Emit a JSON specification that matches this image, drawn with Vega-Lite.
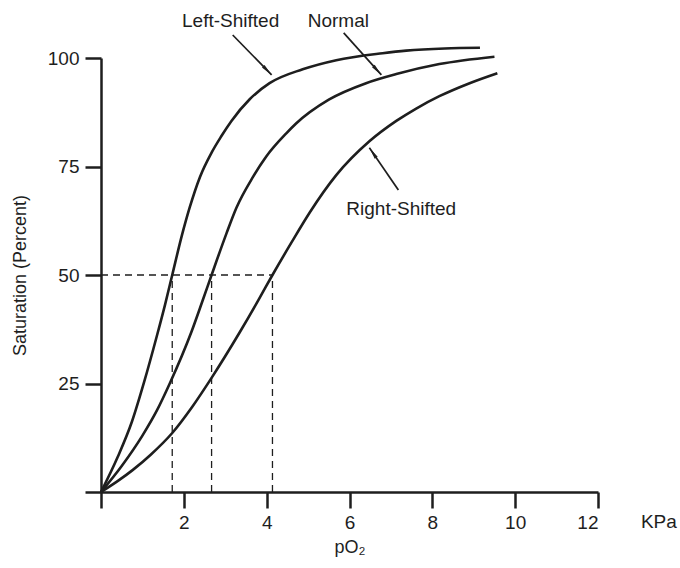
{
  "$schema": "https://vega.github.io/schema/vega-lite/v6.json",
  "autosize": "none",
  "width": 497,
  "height": 434,
  "padding": {"left": 101, "top": 58, "right": 82, "bottom": 76},
  "background": "white",
  "config": {
    "view": {"stroke": null},
    "font": "Liberation Sans",
    "axis": {
      "grid": false,
      "domainColor": "#1e1e1e",
      "domainWidth": 2.5,
      "tickColor": "#1e1e1e",
      "tickWidth": 2.5,
      "tickSize": 16,
      "labelFont": "Liberation Sans",
      "labelFontSize": 19,
      "labelColor": "#1e1e1e",
      "titleFont": "Liberation Sans",
      "titleFontSize": 18,
      "titleFontWeight": "normal",
      "titleColor": "#1e1e1e"
    }
  },
  "datasets": {
    "curves": [
      {"curve": "Left-Shifted", "po2": 0, "sat": 0},
      {"curve": "Left-Shifted", "po2": 0.4, "sat": 8},
      {"curve": "Left-Shifted", "po2": 0.75, "sat": 16.3},
      {"curve": "Left-Shifted", "po2": 1.04, "sat": 25.3},
      {"curve": "Left-Shifted", "po2": 1.35, "sat": 36},
      {"curve": "Left-Shifted", "po2": 1.55, "sat": 43.3},
      {"curve": "Left-Shifted", "po2": 1.72, "sat": 50},
      {"curve": "Left-Shifted", "po2": 1.95, "sat": 59},
      {"curve": "Left-Shifted", "po2": 2.14, "sat": 65.5},
      {"curve": "Left-Shifted", "po2": 2.39, "sat": 72.6},
      {"curve": "Left-Shifted", "po2": 2.67, "sat": 78.2},
      {"curve": "Left-Shifted", "po2": 2.9, "sat": 81.9},
      {"curve": "Left-Shifted", "po2": 3.15, "sat": 85.5},
      {"curve": "Left-Shifted", "po2": 3.59, "sat": 90.5},
      {"curve": "Left-Shifted", "po2": 4.07, "sat": 94.2},
      {"curve": "Left-Shifted", "po2": 4.87, "sat": 97.4},
      {"curve": "Left-Shifted", "po2": 5.68, "sat": 99.5},
      {"curve": "Left-Shifted", "po2": 6.8, "sat": 101.1},
      {"curve": "Left-Shifted", "po2": 7.37, "sat": 101.7},
      {"curve": "Left-Shifted", "po2": 8.3, "sat": 102.2},
      {"curve": "Left-Shifted", "po2": 9.15, "sat": 102.35},
      {"curve": "Normal", "po2": 0, "sat": 0},
      {"curve": "Normal", "po2": 0.5, "sat": 6},
      {"curve": "Normal", "po2": 1.0, "sat": 13},
      {"curve": "Normal", "po2": 1.35, "sat": 18.8},
      {"curve": "Normal", "po2": 1.66, "sat": 25},
      {"curve": "Normal", "po2": 2.18, "sat": 36.8},
      {"curve": "Normal", "po2": 2.45, "sat": 44},
      {"curve": "Normal", "po2": 2.67, "sat": 50},
      {"curve": "Normal", "po2": 3.03, "sat": 59.6},
      {"curve": "Normal", "po2": 3.27, "sat": 65.5},
      {"curve": "Normal", "po2": 3.67, "sat": 72.6},
      {"curve": "Normal", "po2": 3.99, "sat": 77.3},
      {"curve": "Normal", "po2": 4.48, "sat": 82.7},
      {"curve": "Normal", "po2": 4.71, "sat": 84.9},
      {"curve": "Normal", "po2": 5.5, "sat": 90.4},
      {"curve": "Normal", "po2": 6.4, "sat": 94.2},
      {"curve": "Normal", "po2": 7.13, "sat": 96.3},
      {"curve": "Normal", "po2": 8.17, "sat": 98.6},
      {"curve": "Normal", "po2": 9.5, "sat": 100.3},
      {"curve": "Right-Shifted", "po2": 0, "sat": 0},
      {"curve": "Right-Shifted", "po2": 0.4, "sat": 2.5},
      {"curve": "Right-Shifted", "po2": 0.77, "sat": 5.1},
      {"curve": "Right-Shifted", "po2": 1.2, "sat": 8.6},
      {"curve": "Right-Shifted", "po2": 1.72, "sat": 13.6},
      {"curve": "Right-Shifted", "po2": 2.2, "sat": 19.6},
      {"curve": "Right-Shifted", "po2": 2.67, "sat": 26.3},
      {"curve": "Right-Shifted", "po2": 3.35, "sat": 36.8},
      {"curve": "Right-Shifted", "po2": 3.8, "sat": 44.2},
      {"curve": "Right-Shifted", "po2": 4.14, "sat": 50},
      {"curve": "Right-Shifted", "po2": 4.6, "sat": 57.5},
      {"curve": "Right-Shifted", "po2": 5.04, "sat": 64.4},
      {"curve": "Right-Shifted", "po2": 5.68, "sat": 73},
      {"curve": "Right-Shifted", "po2": 6.48, "sat": 80.8},
      {"curve": "Right-Shifted", "po2": 7.13, "sat": 85.5},
      {"curve": "Right-Shifted", "po2": 7.6, "sat": 88.3},
      {"curve": "Right-Shifted", "po2": 8.17, "sat": 91.2},
      {"curve": "Right-Shifted", "po2": 8.9, "sat": 94.2},
      {"curve": "Right-Shifted", "po2": 9.57, "sat": 96.5}
    ],
    "guides": [
      {"x": 0, "x2": 4.14, "y": 50, "y2": 50},
      {"x": 1.72, "x2": 1.72, "y": 0, "y2": 50},
      {"x": 2.67, "x2": 2.67, "y": 0, "y2": 50},
      {"x": 4.14, "x2": 4.14, "y": 0, "y2": 50}
    ],
    "arrows": [
      {"curve": "Left-Shifted", "x": 3.18, "y": 105.3, "x2": 4.12, "y2": 96.1},
      {"curve": "Normal", "x": 5.86, "y": 105.8, "x2": 6.77, "y2": 96.1},
      {"curve": "Right-Shifted", "x": 7.18, "y": 69.6, "x2": 6.48, "y2": 79.3}
    ],
    "labels": [
      {"text": "Left-Shifted", "x": 3.13, "y": 108.5},
      {"text": "Normal", "x": 5.73, "y": 108.5},
      {"text": "Right-Shifted", "x": 7.25, "y": 65.2},
      {"text": "KPa", "x": 13.47, "y": -6.9}
    ]
  },
  "layer": [
    {
      "data": {"name": "guides"},
      "mark": {"type": "rule", "color": "#1e1e1e", "strokeWidth": 1.3, "strokeDash": [7, 5]},
      "encoding": {
        "x": {"field": "x", "type": "quantitative", "scale": {"domain": [0, 12], "nice": false},
          "axis": {"values": [0, 2, 4, 6, 8, 10, 12], "title": "pO₂", "labelPadding": 5, "titlePadding": 6,
            "labelExpr": "datum.value == 0 ? '' : datum.label"}},
        "x2": {"field": "x2"},
        "y": {"field": "y", "type": "quantitative", "scale": {"domain": [0, 100], "nice": false},
          "axis": {"values": [0, 25, 50, 75, 100], "title": "Saturation (Percent)", "labelPadding": 6, "titlePadding": 18,
            "labelExpr": "datum.value == 0 ? '' : datum.label"}},
        "y2": {"field": "y2"}
      }
    },
    {
      "data": {"name": "curves"},
      "mark": {"type": "line", "color": "#1e1e1e", "strokeWidth": 2.6, "interpolate": "monotone"},
      "encoding": {
        "x": {"field": "po2", "type": "quantitative"},
        "y": {"field": "sat", "type": "quantitative"},
        "detail": {"field": "curve"}
      }
    },
    {
      "data": {"name": "arrows"},
      "mark": {"type": "rule", "color": "#1e1e1e", "strokeWidth": 1.7},
      "encoding": {
        "x": {"field": "x", "type": "quantitative"},
        "y": {"field": "y", "type": "quantitative"},
        "x2": {"field": "x2"},
        "y2": {"field": "y2"}
      }
    },
    {
      "data": {"name": "arrows"},
      "transform": [{"filter": "datum.curve == 'Left-Shifted'"}],
      "mark": {"type": "point", "shape": "M0,0L0.3,2L-0.3,2Z", "size": 144, "filled": true, "color": "#1e1e1e", "opacity": 1, "angle": 135.7},
      "encoding": {
        "x": {"field": "x2", "type": "quantitative"},
        "y": {"field": "y2", "type": "quantitative"}
      }
    },
    {
      "data": {"name": "arrows"},
      "transform": [{"filter": "datum.curve == 'Normal'"}],
      "mark": {"type": "point", "shape": "M0,0L0.3,2L-0.3,2Z", "size": 144, "filled": true, "color": "#1e1e1e", "opacity": 1, "angle": 137.9},
      "encoding": {
        "x": {"field": "x2", "type": "quantitative"},
        "y": {"field": "y2", "type": "quantitative"}
      }
    },
    {
      "data": {"name": "arrows"},
      "transform": [{"filter": "datum.curve == 'Right-Shifted'"}],
      "mark": {"type": "point", "shape": "M0,0L0.3,2L-0.3,2Z", "size": 144, "filled": true, "color": "#1e1e1e", "opacity": 1, "angle": 325.4},
      "encoding": {
        "x": {"field": "x2", "type": "quantitative"},
        "y": {"field": "y2", "type": "quantitative"}
      }
    },
    {
      "data": {"name": "labels"},
      "mark": {"type": "text", "font": "Liberation Sans", "fontSize": 19, "color": "#1e1e1e", "align": "center", "baseline": "middle"},
      "encoding": {
        "x": {"field": "x", "type": "quantitative"},
        "y": {"field": "y", "type": "quantitative"},
        "text": {"field": "text"}
      }
    }
  ]
}
